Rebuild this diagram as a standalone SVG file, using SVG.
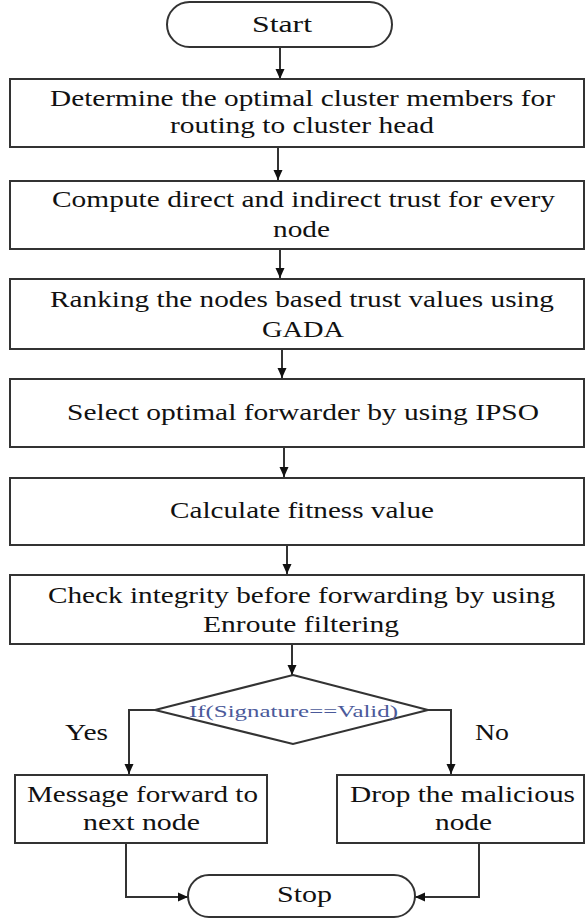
<svg xmlns="http://www.w3.org/2000/svg" width="587" height="920" viewBox="0 0 587 920">
<style>
.box{fill:#fff;stroke:#333;stroke-width:2}
.t{font-family:'Liberation Serif',serif;font-size:23px;fill:#111}
.d{font-family:'Liberation Serif',serif;font-size:17px;fill:#4b5a9a}
.c{fill:none;stroke:#333;stroke-width:2}
</style>
<defs>
<marker id="ah" markerUnits="userSpaceOnUse" markerWidth="10" markerHeight="10" refX="10" refY="5" orient="auto">
<path d="M0,0.5 L10,5 L0,9.5 z" fill="#111"/>
</marker>
</defs>
<rect width="587" height="920" fill="#fff"/>
<g id="connectors">
<path class="c" d="M280,47 V79" marker-end="url(#ah)"/>
<path class="c" d="M278,147 V180" marker-end="url(#ah)"/>
<path class="c" d="M280,249 V278" marker-end="url(#ah)"/>
<path class="c" d="M282,349 V378" marker-end="url(#ah)"/>
<path class="c" d="M284,447 V477" marker-end="url(#ah)"/>
<path class="c" d="M287,545 V574" marker-end="url(#ah)"/>
<path class="c" d="M292,644 V675" marker-end="url(#ah)"/>
<path class="c" d="M155,710 H129 V774" marker-end="url(#ah)"/>
<path class="c" d="M428,710 H451 V774" marker-end="url(#ah)"/>
<path class="c" d="M126,843 V897 H188" marker-end="url(#ah)"/>
<path class="c" d="M479,843 V897 H415" marker-end="url(#ah)"/>
</g>
<g id="start">
<rect class="box" x="167" y="2" width="225" height="45" rx="22.5"/>
<text class="t" x="252" y="32" textLength="60" lengthAdjust="spacingAndGlyphs">Start</text>
</g>
<g id="n1">
<rect class="box" x="10" y="79" width="574" height="68"/>
<text class="t" x="50" y="106" textLength="505" lengthAdjust="spacingAndGlyphs">Determine the optimal cluster members for</text>
<text class="t" x="170" y="133" textLength="264" lengthAdjust="spacingAndGlyphs">routing to cluster head</text>
</g>
<g id="n2">
<rect class="box" x="10" y="181" width="574" height="68"/>
<text class="t" x="52" y="207" textLength="503" lengthAdjust="spacingAndGlyphs">Compute direct and indirect trust for every</text>
<text class="t" x="273" y="237" textLength="57" lengthAdjust="spacingAndGlyphs">node</text>
</g>
<g id="n3">
<rect class="box" x="10" y="279" width="574" height="70"/>
<text class="t" x="50" y="307" textLength="504" lengthAdjust="spacingAndGlyphs">Ranking the nodes based trust values using</text>
<text class="t" x="262" y="337" textLength="82" lengthAdjust="spacingAndGlyphs">GADA</text>
</g>
<g id="n4">
<rect class="box" x="10" y="379" width="574" height="68"/>
<text class="t" x="67" y="420" textLength="472" lengthAdjust="spacingAndGlyphs">Select optimal forwarder by using IPSO</text>
</g>
<g id="n5">
<rect class="box" x="10" y="478" width="574" height="67"/>
<text class="t" x="170" y="518" textLength="264" lengthAdjust="spacingAndGlyphs">Calculate fitness value</text>
</g>
<g id="n6">
<rect class="box" x="10" y="575" width="574" height="69"/>
<text class="t" x="48" y="603" textLength="507" lengthAdjust="spacingAndGlyphs">Check integrity before forwarding by using</text>
<text class="t" x="203" y="632" textLength="196" lengthAdjust="spacingAndGlyphs">Enroute filtering</text>
</g>
<g id="decision">
<polygon class="box" points="293,675 428,710 293,744 155,710"/>
<text class="d" x="189" y="717" textLength="209" lengthAdjust="spacingAndGlyphs">If(Signature==Valid)</text>
</g>
<g id="labels">
<text class="t" x="65" y="740" textLength="43" lengthAdjust="spacingAndGlyphs">Yes</text>
<text class="t" x="475" y="740" textLength="34" lengthAdjust="spacingAndGlyphs">No</text>
</g>
<g id="yesbox">
<rect class="box" x="15" y="775" width="252" height="68"/>
<text class="t" x="27" y="802" textLength="231" lengthAdjust="spacingAndGlyphs">Message forward to</text>
<text class="t" x="83" y="830" textLength="117" lengthAdjust="spacingAndGlyphs">next node</text>
</g>
<g id="nobox">
<rect class="box" x="337" y="775" width="247" height="68"/>
<text class="t" x="350" y="802" textLength="225" lengthAdjust="spacingAndGlyphs">Drop the malicious</text>
<text class="t" x="435" y="830" textLength="57" lengthAdjust="spacingAndGlyphs">node</text>
</g>
<g id="stop">
<rect class="box" x="188" y="875" width="227" height="42" rx="21"/>
<text class="t" x="277" y="902" textLength="55" lengthAdjust="spacingAndGlyphs">Stop</text>
</g>
</svg>
